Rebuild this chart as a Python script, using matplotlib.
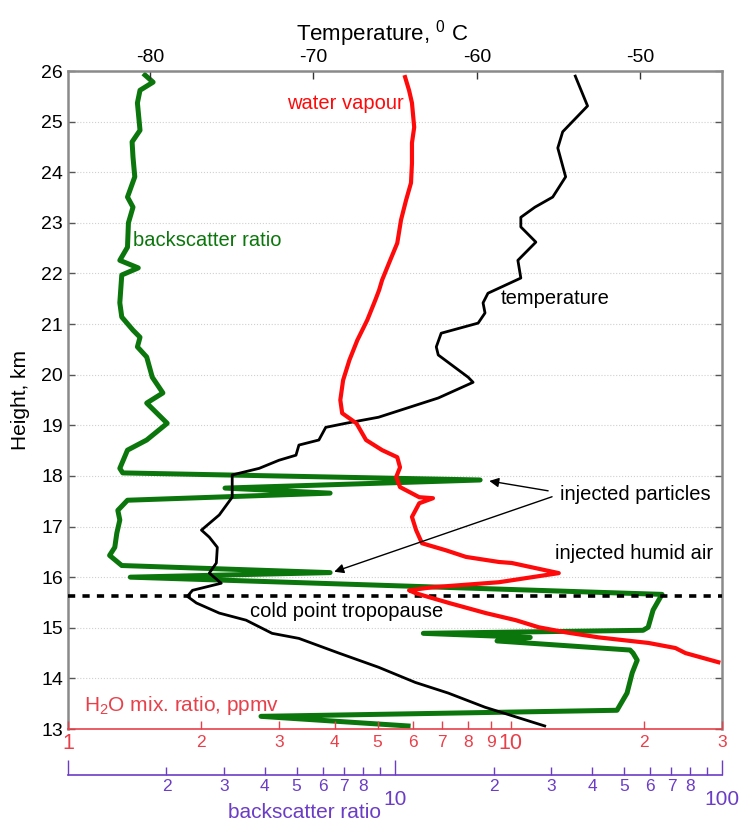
import matplotlib
matplotlib.use("Agg")
import numpy as np
from matplotlib import pyplot as plt
from matplotlib.ticker import FixedLocator, FixedFormatter

plt.rcParams["font.family"] = ["Liberation Sans", "DejaVu Sans"]
plt.rcParams["mathtext.fontset"] = "custom"
plt.rcParams["mathtext.rm"] = "Liberation Sans"
plt.rcParams["mathtext.it"] = "Liberation Sans"
plt.rcParams["axes.unicode_minus"] = False

# temperature profile (deg C vs km)
temp_h = [25.90, 25.31, 24.80, 24.48, 23.91, 23.51, 23.31, 23.11, 22.92, 22.62,
          22.26, 21.91, 21.61, 21.42, 21.22, 21.02, 20.82, 20.55, 20.39, 19.95,
          19.85, 19.54, 19.16, 19.04, 18.96, 18.71, 18.61, 18.41, 18.31, 18.15,
          18.02, 17.58, 17.23, 16.93, 16.79, 16.59, 16.28, 16.08, 15.88, 15.74,
          15.62, 15.49, 15.29, 15.15, 14.89, 14.79, 14.50, 14.22, 13.92, 13.71,
          13.43, 13.27, 13.06]
temp_c = [-53.98, -53.23, -54.75, -55.05, -54.57, -55.36, -56.45, -57.31, -57.31, -56.39,
          -57.49, -57.31, -59.32, -59.62, -59.50, -59.92, -62.18, -62.48, -62.36, -60.53,
          -60.23, -62.36, -66.01, -68.02, -69.24, -69.66, -70.88, -71.06, -72.10, -73.31,
          -74.96, -74.96, -75.75, -76.84, -76.36, -75.87, -75.93, -76.36, -75.63, -77.39,
          -77.70, -77.15, -75.75, -74.11, -72.52, -70.88, -68.44, -66.01, -63.76, -61.75,
          -59.50, -57.92, -55.85]

# water vapour mixing ratio (ppmv vs km)
h2o_h = [25.88, 25.62, 25.37, 24.89, 24.58, 24.18, 23.79, 23.45, 23.06, 22.60,
         22.21, 21.87, 21.67, 21.47, 21.08, 20.68, 20.29, 19.89, 19.50, 19.24,
         19.04, 18.71, 18.51, 18.37, 18.17, 17.98, 17.78, 17.58, 17.56, 17.46,
         17.19, 16.93, 16.67, 16.53, 16.40, 16.30, 16.28, 16.08, 15.90, 15.80,
         15.74, 15.68, 15.49, 15.29, 15.15, 15.01, 14.91, 14.81, 14.70, 14.60,
         14.50, 14.32]
h2o_ppmv = [5.77, 5.89, 5.98, 6.05, 5.98, 5.98, 5.95, 5.80, 5.65, 5.54,
            5.31, 5.12, 5.04, 4.94, 4.74, 4.50, 4.32, 4.18, 4.12, 4.16,
            4.48, 4.71, 5.12, 5.54, 5.62, 5.51, 5.62, 6.21, 6.67, 6.21,
            5.98, 6.11, 6.30, 7.14, 7.92, 9.40, 10.05, 12.83, 9.40, 6.64,
            5.89, 6.11, 7.25, 8.78, 10.26, 11.56, 13.30, 15.79, 20.46, 23.53,
            24.79, 29.41]

# backscatter ratio (vs km)
bsr_h = [25.92, 25.78, 25.62, 25.37, 24.83, 24.60, 24.30, 23.91, 23.51, 23.31,
         23.00, 22.52, 22.26, 22.11, 21.97, 21.42, 21.14, 20.88, 20.74, 20.55,
         20.35, 19.95, 19.64, 19.44, 19.04, 18.71, 18.51, 18.15, 18.06, 17.92,
         17.76, 17.66, 17.52, 17.32, 17.13, 16.87, 16.59, 16.43, 16.23, 16.09,
         16.00, 15.66, 15.35, 15.01, 14.95, 14.89, 14.81, 14.74, 14.56, 14.50,
         14.36, 14.11, 13.71, 13.37, 13.25, 13.06]
bsr = [1.72, 1.82, 1.66, 1.63, 1.66, 1.57, 1.58, 1.60, 1.52, 1.58,
       1.53, 1.52, 1.44, 1.64, 1.46, 1.44, 1.46, 1.58, 1.66, 1.63,
       1.74, 1.81, 1.95, 1.74, 2.01, 1.74, 1.52, 1.44, 1.47, 18.2,
       3.02, 6.33, 1.52, 1.42, 1.44, 1.41, 1.39, 1.34, 1.46, 6.33,
       1.55, 65.5, 61.5, 59.4, 57.3, 12.2, 25.9, 20.5, 52.3, 53.4,
       55.0, 53.1, 51.2, 47.7, 3.89, 10.96]

tropopause_km = 15.62

height_ticks = list(range(13, 27))
temp_ticks = [-80, -70, -60, -50]
h2o_major = [1, 10]
h2o_major_labels = ["1", "10"]
h2o_minor = [2, 3, 4, 5, 6, 7, 8, 9, 20, 30]
h2o_minor_labels = ["2", "3", "4", "5", "6", "7", "8", "9", "2", "3"]
bsr_major = [1, 10, 100]
bsr_major_labels = ["", "10", "100"]
bsr_minor = [2, 3, 4, 5, 6, 7, 8, 9, 20, 30, 40, 50, 60, 70, 80, 90]
bsr_minor_labels = ["2", "3", "4", "5", "6", "7", "8", "", "2", "3", "4", "5", "6", "7", "8", ""]

GREEN = "#0b760b"
RED = "#ff0a0a"
AXRED = "#e8404a"
PURPLE = "#6b3cc6"
FRAME = "#8a8a8a"


def main():
    fig = plt.figure(figsize=(7.45, 8.27), dpi=100)
    ax_g = fig.add_axes([0.0913, 0.1185, 0.878, 0.7956])

    # backscatter axis (holds the height axis and the frame)
    ax_g.plot(bsr, bsr_h, color=GREEN, lw=3.6, solid_joinstyle="round")
    ax_g.set_xscale("log")
    ax_g.set_xlim(1, 100)
    ax_g.set_ylim(13, 26)
    ax_g.set_yticks(height_ticks)
    ax_g.tick_params(axis="y", direction="in", right=True, length=5, width=1,
                     labelsize=14, color="#555555")
    ax_g.yaxis.grid(True, linestyle=":", color="#d0d0d0", lw=0.8)
    ax_g.set_ylabel("Height, km", fontsize=15, labelpad=8)
    for s in ("left", "right"):
        ax_g.spines[s].set_color(FRAME)
        ax_g.spines[s].set_linewidth(1.8)
    ax_g.spines["top"].set_visible(False)
    ax_g.spines["bottom"].set_position(("outward", 33))
    ax_g.spines["bottom"].set_color(PURPLE)
    ax_g.spines["bottom"].set_linewidth(1.2)
    ax_g.xaxis.set_major_locator(FixedLocator(bsr_major))
    ax_g.xaxis.set_major_formatter(FixedFormatter(bsr_major_labels))
    ax_g.xaxis.set_minor_locator(FixedLocator(bsr_minor))
    ax_g.xaxis.set_minor_formatter(FixedFormatter(bsr_minor_labels))
    ax_g.tick_params(axis="x", which="major", direction="in", length=11, width=1,
                     color=PURPLE, labelcolor=PURPLE, labelsize=15, pad=11)
    ax_g.tick_params(axis="x", which="minor", direction="in", length=6, width=1,
                     color=PURPLE, labelcolor=PURPLE, labelsize=12.5, pad=3)
    fig.text(0.512, 0.018, "backscatter ratio", color=PURPLE, fontsize=15,
             ha="right", va="center")

    # temperature axis on top
    ax_t = ax_g.twiny()
    ax_t.plot(temp_c, temp_h, color="black", lw=2.0)
    ax_t.axhline(tropopause_km, color="black", lw=2.6, ls=(0, (2, 2)))
    ax_t.set_xlim(-85, -45)
    ax_t.set_xticks(temp_ticks)
    ax_t.tick_params(axis="x", direction="in", length=6, width=1, labelsize=14,
                     color="#333333")
    ax_t.set_xlabel("Temperature, $^{0}$ C", fontsize=16)
    ax_t.xaxis.set_label_coords(0.48, 1.047)
    for s in ("left", "right", "bottom"):
        ax_t.spines[s].set_visible(False)
    ax_t.spines["top"].set_color(FRAME)
    ax_t.spines["top"].set_linewidth(1.8)

    # water vapour axis at the bottom
    ax_w = ax_g.twiny()
    ax_w.plot(h2o_ppmv, h2o_h, color=RED, lw=3.0)
    ax_w.set_xscale("log")
    ax_w.set_xlim(1, 30)
    ax_w.xaxis.set_ticks_position("bottom")
    ax_w.xaxis.set_label_position("bottom")
    ax_w.xaxis.set_major_locator(FixedLocator(h2o_major))
    ax_w.xaxis.set_major_formatter(FixedFormatter(h2o_major_labels))
    ax_w.xaxis.set_minor_locator(FixedLocator(h2o_minor))
    ax_w.xaxis.set_minor_formatter(FixedFormatter(h2o_minor_labels))
    ax_w.tick_params(axis="x", which="major", direction="in", length=6, width=1,
                     color=AXRED, labelcolor=AXRED, labelsize=15.5, pad=3)
    ax_w.tick_params(axis="x", which="minor", direction="in", length=6, width=1,
                     color=AXRED, labelcolor=AXRED, labelsize=12.5, pad=4)
    for s in ("left", "right", "top"):
        ax_w.spines[s].set_visible(False)
    ax_w.spines["bottom"].set_color(AXRED)
    ax_w.spines["bottom"].set_linewidth(1.2)

    # annotations
    tr = ax_w.transAxes
    ax_w.text(0.514, 0.951, "water vapour", color=RED, fontsize=14.5,
              ha="right", va="center", transform=tr)
    ax_w.text(0.099, 0.743, "backscatter ratio", color=GREEN, fontsize=14.5,
              ha="left", va="center", transform=tr)
    ax_w.text(0.661, 0.655, "temperature", color="black", fontsize=14.5,
              ha="left", va="center", transform=tr)
    ax_w.text(0.752, 0.357, "injected particles", color="black", fontsize=14.5,
              ha="left", va="center", transform=tr)
    ax_w.text(0.745, 0.267, "injected humid air", color="black", fontsize=14.5,
              ha="left", va="center", transform=tr)
    ax_w.text(0.278, 0.179, "cold point tropopause", color="black", fontsize=14.5,
              ha="left", va="center", transform=tr)
    ax_w.text(0.024, 0.035, "H$_2$O mix. ratio, ppmv", color=AXRED, fontsize=15,
              ha="left", va="center", transform=tr)
    arrow = dict(arrowstyle="-|>", lw=1.0, color="black", mutation_scale=14,
                 shrinkA=0, shrinkB=0)
    ax_w.annotate("", xy=(0.644, 0.377), xytext=(0.734, 0.362),
                  xycoords=tr, textcoords=tr, arrowprops=arrow)
    ax_w.annotate("", xy=(0.407, 0.239), xytext=(0.740, 0.353),
                  xycoords=tr, textcoords=tr, arrowprops=arrow)

    fig.savefig("out.png", dpi=100)


if __name__ == "__main__":
    main()
